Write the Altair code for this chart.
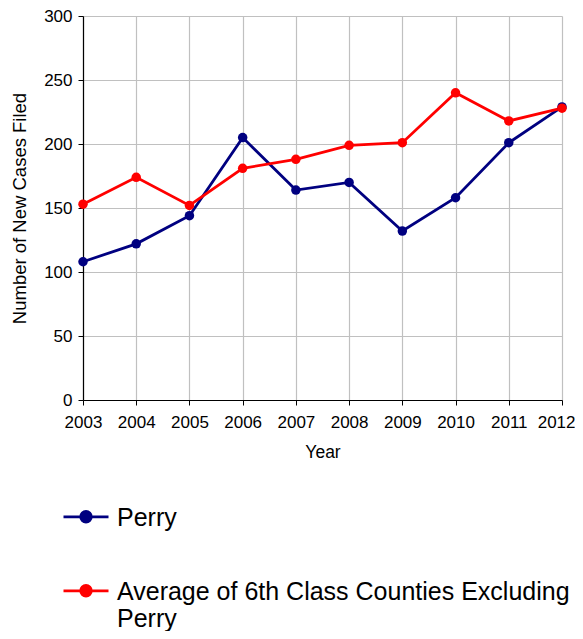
import altair as alt
import pandas as pd

years = [2003, 2004, 2005, 2006, 2007, 2008, 2009, 2010, 2011, 2012]
perry = [108, 122, 144, 205, 164, 170, 132, 158, 201, 229]
average = [153, 174, 152, 181, 188, 199, 201, 240, 218, 228]
series_names = ["Perry", "Average of 6th Class Counties Excluding Perry"]
series_colors = ["#000080", "#ff0000"]

rows = []
for y, v in zip(years, perry):
    rows.append({"Year": y, "Value": v, "Series": series_names[0]})
for y, v in zip(years, average):
    rows.append({"Year": y, "Value": v, "Series": series_names[1]})
df = pd.DataFrame(rows)

font = "Liberation Sans"
# legend symbol: line with a dot, shifted down to sit on the first text line
sym = "M-1,0.48H1M0.235,0.48A0.235,0.235 0 1 1 -0.235,0.48A0.235,0.235 0 1 1 0.235,0.48Z"

color = alt.Color(
    "Series:N",
    scale=alt.Scale(domain=series_names, range=series_colors),
    sort=series_names,
    legend=alt.Legend(
        title=None,
        orient="none",
        legendX=-21,
        legendY=466,
        direction="vertical",
        symbolType=sym,
        symbolSize=2025,
        symbolStrokeWidth=2.8,
        labelFontSize=25,
        labelFont=font,
        labelColor="#000000",
        labelLimit=800,
        labelOffset=7,
        rowPadding=25,
        labelBaseline="top",
        labelExpr="datum.label == 'Average of 6th Class Counties Excluding Perry' ? ['Average of 6th Class Counties Excluding', 'Perry'] : datum.label",
    ),
)

x = alt.X(
    "Year:Q",
    scale=alt.Scale(domain=[2003, 2012], nice=False, zero=False),
    axis=alt.Axis(
        values=years,
        format="d",
        title="Year",
        titlePadding=13,
        labelFlush=False,
        labelAlign=alt.ConditionalAxisLabelAlign(
            condition={"test": "datum.value == 2012", "value": "right"}, value="center"
        ),
        labelOffset=alt.ConditionalAxisNumber(
            condition={"test": "datum.value == 2012", "value": 13}, value=0
        ),
    ),
)
y = alt.Y(
    "Value:Q",
    scale=alt.Scale(domain=[0, 300], nice=False),
    axis=alt.Axis(
        values=[0, 50, 100, 150, 200, 250, 300],
        title="Number of New Cases Filed",
        titlePadding=14,
        titleFontSize=18.5,
        labelPadding=6,
    ),
)

line = alt.Chart(df).mark_line(strokeWidth=2.8).encode(x=x, y=y, color=color)
pts = alt.Chart(df).mark_point(filled=True, size=90, opacity=1).encode(x=x, y=y, color=color)

chart = (
    alt.layer(line, pts)
    .properties(
        width=479,
        height=384,
        autosize=alt.AutoSizeParams(type="none"),
        padding={"left": 75, "top": 8, "right": 13, "bottom": 231},
    )
    .configure_view(stroke=None)
    .configure_axis(
        labelFont=font,
        titleFont=font,
        labelFontSize=17,
        titleFontSize=17.5,
        titleFontWeight="normal",
        labelColor="#000000",
        titleColor="#000000",
        gridColor="#c0c0c0",
        gridWidth=1.2,
        domainColor="#000000",
        domainWidth=1.2,
        tickColor="#000000",
        tickSize=5,
    )
    .configure_axisX(labelPadding=9)
)

chart.save("out.html", embed_options={"renderer": "svg", "actions": False})
